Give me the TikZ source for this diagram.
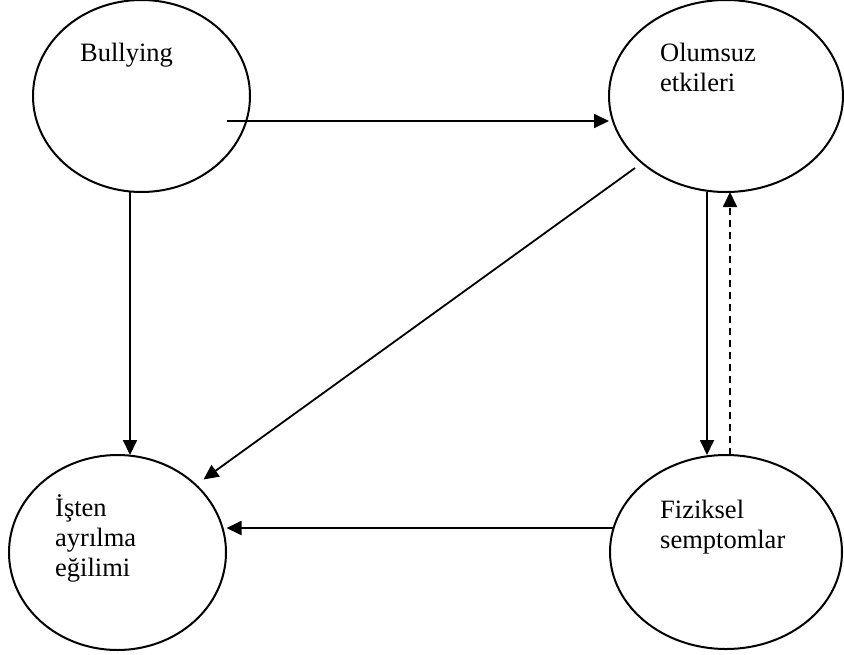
\documentclass[tikz,border=0pt]{standalone}
\usepackage{fontspec}
\setmainfont{Liberation Serif}
\usetikzlibrary{shapes.geometric,arrows.meta,calc}

\begin{document}
\begin{tikzpicture}[x=1pt,y=-1pt,
  bubble/.style={ellipse,draw,line width=2pt,inner sep=0pt,outer sep=0pt},
  lbl/.style={anchor=base west,inner sep=0pt,font=\fontsize{26.5pt}{30pt}\selectfont},
  arr/.style={line width=1.8pt,-{Triangle[length=15pt,width=14pt]}},
  dasharr/.style={arr,dash pattern=on 7pt off 5pt}]
\useasboundingbox (0,0) rectangle (844,654);

% the four concepts
\node[bubble,minimum width=217pt,minimum height=192pt] (bul) at (141.5,96) {};
\node[bubble,minimum width=234pt,minimum height=192pt] (olu) at (726,96) {};
\node[bubble,minimum width=217pt,minimum height=195pt] (ist) at (117.5,552.5) {};
\node[bubble,minimum width=232pt,minimum height=194pt] (fiz) at (726,552) {};

% their labels, first baseline at the given point
\node[lbl] (tbul) at (80,61) {Bullying};
\node[lbl] (tolu) at (660,61) {\vtop{\baselineskip=30pt\hbox{Olumsuz}\hbox{etkileri}}};
\node[lbl] (tist) at (55,516) {\vtop{\baselineskip=30pt\hbox{İşten}\hbox{ayrılma}\hbox{eğilimi}}};
\node[lbl] (tfiz) at (660,518) {\vtop{\baselineskip=30pt\hbox{Fiziksel}\hbox{semptomlar}}};

% connector end points
\coordinate (h1) at ($(bul.center)+(85,25)$);
\coordinate (d1) at ($(olu.center)+(-91,72)$);
\coordinate (d2) at ($(ist.center)+(86,-73)$);
\coordinate (f1) at ($(fiz.center)+(-113,-24)$);
\coordinate (f2) at ($(ist.center)+(109,-24.5)$);

% relations
\draw[arr] (h1) -- (h1 -| olu.west);
\draw[arr] ($(bul.south)+(-11.5,0)$) -- ($(ist.north)+(12.5,0)$);
\draw[arr] (d1) -- (d2);
\draw[arr] ($(olu.south)+(-19,0)$) -- ($(fiz.north)+(-19,0)$);
\draw[dasharr] ($(fiz.north)+(4,0)$) -- ($(olu.south)+(4,0)$);
\draw[arr] (f1) -- (f2);
\end{tikzpicture}
\end{document}
